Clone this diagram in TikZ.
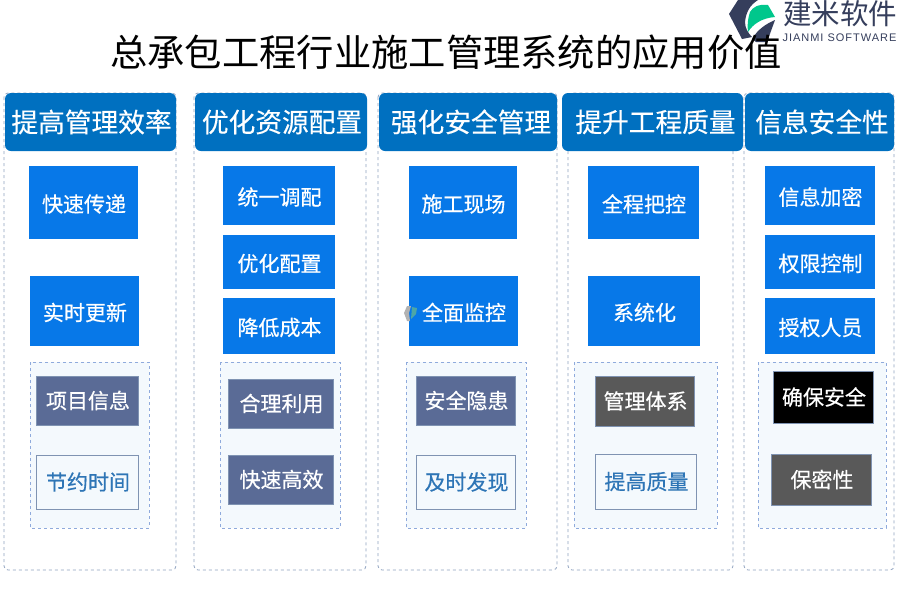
\documentclass[tikz,border=0pt]{standalone}
\usepackage{fontspec}
\setmainfont{Noto Sans CJK SC}
\newfontfamily\latinfont{Liberation Sans}
\definecolor{headblue}{HTML}{0070C0}
\definecolor{boxblue}{HTML}{0778E8}
\definecolor{slate}{HTML}{5A6B96}
\definecolor{slateedge}{HTML}{7F93B2}
\definecolor{graydark}{HTML}{595959}
\definecolor{lightfill}{HTML}{F4F9FD}
\definecolor{lighttext}{HTML}{2E75B6}
\definecolor{outeredge}{HTML}{8FA2C0}
\definecolor{inneredge}{HTML}{8FAADC}
\definecolor{logodark}{HTML}{353E5C}
\definecolor{logogreen}{HTML}{00C78C}
\newcommand{\fs}[1]{\fontsize{#1}{#1}\selectfont}
\tikzset{
  x=1pt,y=-1pt,
  outerbox/.style={draw=outeredge,dashed,rounded corners=4pt,line width=0.8pt,fill=white},
  innerbox/.style={draw=inneredge,dashed,line width=0.8pt,fill=lightfill},
  txt/.style={inner sep=0pt,xshift=0.5pt,font=\fs{21}\addfontfeature{FakeBold=0.5}},
  onbox/.style={txt,yshift=-1.5pt,text=white},
  onpanel/.style={txt,yshift=0.5pt,text=white},
  onlight/.style={txt,yshift=0.5pt,text=lighttext},
  headtxt/.style={inner sep=0pt,font=\fs{26.7}\addfontfeature{FakeBold=0.3},text=white},
}
% \bx{name}{x0}{y0}{x1}{y1}{fill}{edge}{text style}{text}
\newcommand{\bx}[9]{%
  \path[fill=#6,draw=#7,line width=1pt] ({#2+0.5},{#3+0.5}) rectangle ({#4-0.5},{#5-0.5});
  \node[#8] (#1) at ({(#2+#4)/2},{(#3+#5)/2}) {#9};}
% \hd{name}{x0}{y0}{x1}{y1}{text centre x}{text}
\newcommand{\hd}[7]{%
  \path[fill=headblue,rounded corners=6pt] (#2,#3) rectangle (#4,#5);
  \node[headtxt] (#1) at (#6,{(#3+#5)/2}) {#7};}
\begin{document}
\begin{tikzpicture}
\useasboundingbox (0,0) rectangle (900,600);
\fill[white] (0,0) rectangle (900,600);
% outer columns
\draw[outerbox] (4,93) rectangle (176,570);
\draw[outerbox] (194,93) rectangle (366,570);
\draw[outerbox] (378,93) rectangle (557,570);
\draw[outerbox] (568,93) rectangle (733,570);
\draw[outerbox] (744,93) rectangle (894,570);
% inner panels
\draw[innerbox] (30,362) rectangle (149,528);
\draw[innerbox] (220,362) rectangle (340,528);
\draw[innerbox] (406,362) rectangle (526,528);
\draw[innerbox] (574,362) rectangle (717,528);
\draw[innerbox] (758,362) rectangle (886,528);
% headers
\hd{h1}{5}{93}{176}{151}{91.5}{提高管理效率}
\hd{h2}{195}{93}{367}{151}{282}{优化资源配置}
\hd{h3}{379}{93}{557}{151}{471}{强化安全管理}
\hd{h4}{562}{93}{743}{151}{655.5}{提升工程质量}
\hd{h5}{745}{93}{894}{151}{822}{信息安全性}
% column 1
\bx{a1}{29}{166}{138}{239}{boxblue}{boxblue}{onbox}{快速传递}
\bx{a2}{30}{276}{139}{346}{boxblue}{boxblue}{onbox}{实时更新}
\bx{a3}{36}{376}{139}{426}{slate}{slateedge}{onpanel}{项目信息}
\bx{a4}{36}{455}{139}{510}{lightfill}{slateedge}{onlight}{节约时间}
% column 2
\bx{b1}{223}{166}{335}{225}{boxblue}{boxblue}{onbox}{统一调配}
\bx{b2}{223}{235}{335}{289}{boxblue}{boxblue}{onbox}{优化配置}
\bx{b3}{223}{298}{335}{354}{boxblue}{boxblue}{onbox}{降低成本}
\bx{b4}{228}{379}{334}{429}{slate}{slateedge}{onpanel}{合理利用}
\bx{b5}{228}{455}{334}{505}{slate}{slateedge}{onpanel}{快速高效}
% column 3
\bx{c1}{409}{166}{517}{239}{boxblue}{boxblue}{onbox}{施工现场}
\bx{c2}{409}{276}{518}{346}{boxblue}{boxblue}{onbox}{全面监控}
\bx{c3}{416}{376}{516}{426}{slate}{slateedge}{onpanel}{安全隐患}
\bx{c4}{416}{455}{516}{510}{lightfill}{slateedge}{onlight}{及时发现}
% watermark
\fill[gray!60] (407,306) -- (404,313) -- (407,321) -- (410,321) -- (409,313) -- (411,306) -- cycle;
\fill[teal!70] (412,307) -- (417,308) -- (416,314) -- (411,319) -- cycle;
% column 4
\bx{d1}{588}{166}{699}{239}{boxblue}{boxblue}{onbox}{全程把控}
\bx{d2}{588}{276}{700}{346}{boxblue}{boxblue}{onbox}{系统化}
\bx{d3}{595}{376}{695}{427}{graydark}{slateedge}{onpanel}{管理体系}
\bx{d4}{595}{454}{697}{510}{lightfill}{slateedge}{onlight}{提高质量}
% column 5
\bx{e1}{765}{166}{875}{225}{boxblue}{boxblue}{onbox}{信息加密}
\bx{e2}{765}{235}{875}{289}{boxblue}{boxblue}{onbox}{权限控制}
\bx{e3}{765}{298}{875}{354}{boxblue}{boxblue}{onbox}{授权人员}
\bx{e4}{773}{371}{874}{424}{black}{slateedge}{onpanel}{确保安全}
\bx{e5}{771}{454}{872}{506}{graydark}{slateedge}{onpanel}{保密性}
% logo
\fill[logodark] (738,0) -- (758,0) .. controls (750,5) and (746,12) .. (745,22) .. controls (745,28) and (748,33) .. (752,37) -- (742,39) -- (729,14) -- cycle;
\fill[logogreen] (750,12) .. controls (753,7) and (758,4) .. (768,5) -- (775,17) .. controls (762,18) and (753,24) .. (748,32) .. controls (747,25) and (748,18) .. (750,12) -- cycle;
\fill[logodark] (752,39) .. controls (758,29) and (766,24) .. (775,20) -- (767,42) -- (756,42) -- cycle;
% title
\node[inner sep=0pt,text=black,font=\fs{37.3}] (title) at (446,52) {总承包工程行业施工管理系统的应用价值};
\node[inner sep=0pt,text=logodark,font=\fs{28.5}] (logoa) at (840,14) {建米软件};
\node[inner sep=0pt,text=logodark,font={\latinfont\fs{11}}] (logob) at (839.5,38) {\addfontfeatures{LetterSpace=9}JIANMI SOFTWARE};
\end{tikzpicture}
\end{document}
